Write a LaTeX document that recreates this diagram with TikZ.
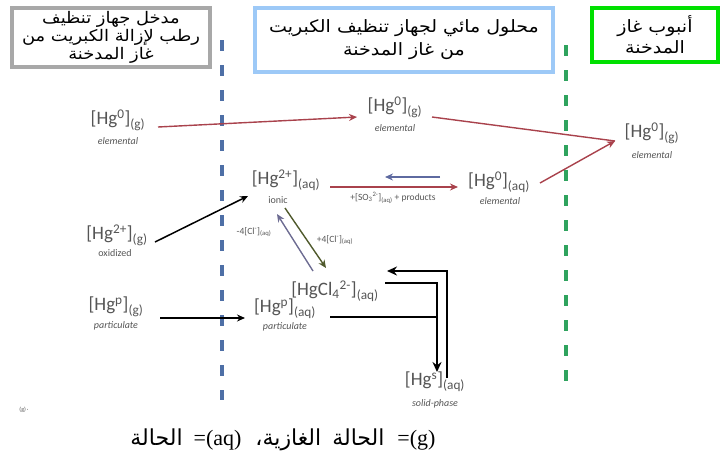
\documentclass[tikz,border=0pt]{standalone}
\usepackage{fontspec}
\usetikzlibrary{arrows.meta}
\TeXXeTstate=1
\setmainfont{Liberation Serif}
\newfontfamily\arabicfont[Script=Arabic]{DejaVu Sans}
\newfontfamily\arabicwide[Script=Arabic,FakeStretch=1.12]{DejaVu Sans}
\newfontfamily\chemfont{Carlito}
\newcommand\artext[1]{{\arabicwide\beginR #1\endR}}

\definecolor{boxgrey}{HTML}{A8A8A8}
\definecolor{boxblue}{HTML}{9DC9F7}
\definecolor{boxgreen}{HTML}{00E000}
\definecolor{lineblue}{HTML}{4E6FA6}
\definecolor{linegreen}{HTML}{2FA35E}
\definecolor{chemgrey}{HTML}{555555}
\definecolor{redarrow}{HTML}{A9424C}
\definecolor{bluearrow}{HTML}{5E6AA0}
\definecolor{olivearrow}{HTML}{505A2C}
\definecolor{purplearrow}{HTML}{6D6C92}

\tikzset{
  zonebox/.style={draw, line width=3.5pt, fill=white, align=center,
    font=\fontsize{16}{18}\selectfont, inner sep=0pt},
  species/.style={font=\chemfont\fontsize{19}{21}\selectfont, text=chemgrey, inner sep=1pt},
  phase/.style={font=\chemfont\itshape\fontsize{10}{11}\selectfont, text=chemgrey, inner sep=0.5pt},
  cond/.style={font=\chemfont\fontsize{9.5}{11}\selectfont, text=chemgrey, inner sep=0.5pt},
  tip/.style={-{Stealth[length=8pt,width=7pt]}},
  redflow/.style={tip, draw=redarrow, line width=1.4pt},
  blackflow/.style={tip, draw=black, line width=1.5pt},
  loopflow/.style={-{Stealth[length=10pt,width=9pt]}, draw=black, line width=2.4pt},
  zoneline/.style={line width=3.6pt, dash pattern=on 11pt off 14pt},
}

\begin{document}
\begin{tikzpicture}[x=1pt, y=-1pt]
\useasboundingbox (0,0) rectangle (728,456);

% zone divisions
\draw[zoneline, lineblue] (222,40) -- (222,400);
\draw[zoneline, linegreen] (566,45) -- (566,390);

% zone headings
\node[zonebox, draw=boxgrey, minimum width=198pt, minimum height=59pt] (inlet) at (111,37.5)
  {\artext{مدخل جهاز تنظيف}\\\artext{رطب لإزالة الكبريت من}\\\artext{غاز المدخنة}};
\node[zonebox, draw=boxblue, minimum width=298pt, minimum height=64pt,
  font=\fontsize{17}{23}\selectfont] (scrubber) at (404,40)
  {\artext{محلول مائي لجهاز تنظيف الكبريت}\\\artext{من غاز المدخنة}};
\node[zonebox, draw=boxgreen, minimum width=126pt, minimum height=54pt,
  font=\fontsize{17}{21}\selectfont] (stack) at (655,35)
  {\artext{أنبوب غاز}\\\artext{المدخنة}};

% species
\node[species] (hgL) at (118,120) {[Hg\textsuperscript{0}]\textsubscript{(g)}};
\node[phase] (hgLp) at (118,141) {elemental};
\node[species] (hgM) at (395,107) {[Hg\textsuperscript{0}]\textsubscript{(g)}};
\node[phase] (hgMp) at (395,128) {elemental};
\node[species] (hgR) at (652,133) {[Hg\textsuperscript{0}]\textsubscript{(g)}};
\node[phase] (hgRp) at (652,155) {elemental};
\node[species] (hgion) at (286,180) {[Hg\textsuperscript{2+}]\textsubscript{(aq)}};
\node[phase, font=\chemfont\fontsize{10}{11}\selectfont] (hgionp) at (278,200) {ionic};
\node[species] (hg0aq) at (499,182) {[Hg\textsuperscript{0}]\textsubscript{(aq)}};
\node[phase] (hg0aqp) at (500,201) {elemental};
\node[species] (hgox) at (117,235) {[Hg\textsuperscript{2+}]\textsubscript{(g)}};
\node[phase, font=\chemfont\fontsize{10}{11}\selectfont] (hgoxp) at (115,253) {oxidized};
\node[species] (hgcl) at (335,291) {[HgCl\textsubscript{4}\textsuperscript{2-}]\textsubscript{(aq)}};
\node[species] (hgpg) at (116,307) {[Hg\textsuperscript{p}]\textsubscript{(g)}};
\node[phase] (hgpgp) at (116,326) {particulate};
\node[species] (hgpaq) at (285,309) {[Hg\textsuperscript{p}]\textsubscript{(aq)}};
\node[phase] (hgpaqp) at (285,327) {particulate};
\node[species] (hgs) at (435,382) {[Hg\textsuperscript{s}]\textsubscript{(aq)}};
\node[phase] (hgsp) at (435,404) {solid-phase};

% reaction conditions
\node[cond] (sulfite) at (393,198) {+[SO\textsubscript{3}\textsuperscript{2-}]\textsubscript{(aq)} + products};
\node[cond] (clplus) at (335,240) {+4[Cl\textsuperscript{-}]\textsubscript{(aq)}};
\node[cond] (clminus) at (254,232) {-4[Cl\textsuperscript{-}]\textsubscript{(aq)}};

% elemental mercury passing to the stack
\coordinate (stackin) at ([xshift=-37pt,yshift=-8pt]hgR.center);
\draw[redflow] ([xshift=40pt,yshift=-7pt]hgL.center) -- ([xshift=-38pt,yshift=-10pt]hgM.center);
\draw[redflow, -] ([xshift=37pt,yshift=-10pt]hgM.center) -- (stackin);
\draw[redflow] ([xshift=41pt,yshift=-1pt]hg0aq.center) -- (stackin);

% reduction of ionic mercury
\draw[redflow] ([xshift=44pt,yshift=-7pt]hgion.center) -- ([xshift=-41pt,yshift=-5pt]hg0aq.center);
\draw[tip, draw=bluearrow, line width=1.4pt] ([xshift=-59pt,yshift=5pt]hg0aq.center) -- ([xshift=99pt,yshift=3pt]hgion.center);

% absorption of oxidized mercury
\draw[blackflow] ([xshift=38pt,yshift=-7pt]hgox.center) -- ([xshift=-38pt,yshift=-16pt]hgion.center);

% chloride complexation
\draw[tip, draw=olivearrow, line width=1.4pt] ([xshift=-1pt,yshift=-28pt]hgion.center) -- ([xshift=-9pt,yshift=23pt]hgcl.center);
\draw[tip, draw=purplearrow, line width=1.4pt] ([xshift=-22pt,yshift=20pt]hgcl.center) -- ([xshift=-9pt,yshift=-34pt]hgion.center);

% particulate capture
\draw[blackflow] ([xshift=44pt,yshift=-11pt]hgpg.center) -- ([xshift=-40pt,yshift=-9pt]hgpaq.center);

% solid phase exchange
\coordinate (dropline) at ([xshift=2pt,yshift=10pt]hgs.center);
\draw[loopflow] ([xshift=50pt,yshift=8pt]hgcl.center) -| (dropline);
\draw[black, line width=1.6pt] ([xshift=45pt,yshift=-8pt]hgpaq.center) -- ([yshift=-8pt]hgpaq.center -| dropline);
\draw[loopflow] ([xshift=12pt,yshift=4pt]hgs.center) |- ([xshift=52pt,yshift=20pt]hgcl.center);

% footnote marks
\node[font=\chemfont\fontsize{6}{7}\selectfont, text=chemgrey] (gmark) at (24,410) {(g)\,·};
\node[font=\fontsize{22}{24}\selectfont] (legend) at (283,440)
  {{\arabicfont\beginR\beginL{\rmfamily=(g)}\endL\hspace{13pt}الحالة\hspace{11pt}الغازية،\hspace{14pt}\beginL{\rmfamily=(aq)}\endL\hspace{11pt}الحالة\endR}};
\end{tikzpicture}
\end{document}
